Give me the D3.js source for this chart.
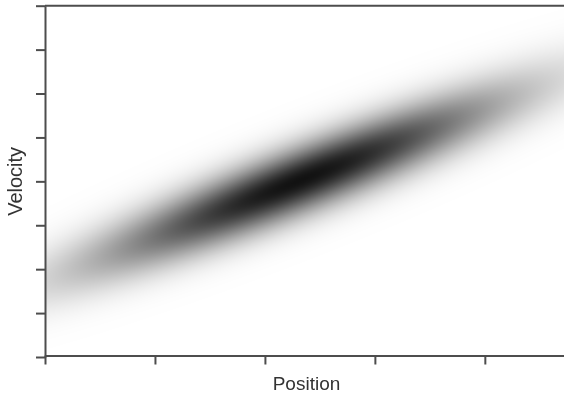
<!DOCTYPE html>
<html>
<head>
<meta charset="utf-8">
<script src="https://cdn.jsdelivr.net/npm/d3@7"></script>
<style>
  html, body { margin: 0; padding: 0; background: #fff; }
  #wrap { position: relative; width: 564px; height: 398px; }
  canvas, svg { position: absolute; left: 0; top: 0; }
</style>
</head>
<body>
<div id="wrap"></div>
<script>
// Joint density of position and velocity (bivariate normal)
const variables = ["Position", "Velocity"];
const means = [2.32, 4.02];
const stdDevs = [1.27, 1.34];
const correlation = [0.916];

// Axis ticks (labels are left blank)
const xTicks = [0, 1, 2, 3, 4];
const yTicks = [0, 1, 2, 3, 4, 5, 6, 7, 8];
const xDomain = [0, 4.72];
const yDomain = [0, 8];

const W = 564, H = 398;
const plotLeft = 45, plotRight = 564, plotTop = 5.7, plotBottom = 357;

const x = d3.scaleLinear().domain(xDomain).range([plotLeft, plotRight]);
const y = d3.scaleLinear().domain(yDomain).range([plotBottom, plotTop]);

const wrap = d3.select("#wrap");

// density image
const canvas = wrap.append("canvas").attr("width", W).attr("height", H).node();
const ctx = canvas.getContext("2d");
const img = ctx.createImageData(W, H);
const [mx, my] = means, [sx, sy] = stdDevs, rho = correlation[0];
const k = 1 / (2 * (1 - rho * rho));
const shade = d3.scaleLinear().domain([0, 1]).range([255, 18]);
for (let py = 0; py < H; py++) {
  for (let px = 0; px < W; px++) {
    const i = (py * W + px) * 4;
    let g = 255;
    if (px >= plotLeft && py >= plotTop && py <= plotBottom) {
      const zx = (x.invert(px + 0.5) - mx) / sx;
      const zy = (y.invert(py + 0.5) - my) / sy;
      const d = Math.exp(-k * (zx * zx - 2 * rho * zx * zy + zy * zy));
      g = shade(d);
    }
    img.data[i] = img.data[i + 1] = img.data[i + 2] = g;
    img.data[i + 3] = 255;
  }
}
ctx.putImageData(img, 0, 0);

const svg = wrap.append("svg").attr("width", W).attr("height", H);
const axisColor = "#4d4d4d";

const xAxis = svg.append("g")
  .attr("transform", `translate(0,${plotBottom - 1.5})`)
  .call(d3.axisBottom(x).tickValues(xTicks).tickFormat("").tickSizeInner(9).tickSizeOuter(0));
const yAxis = svg.append("g")
  .attr("transform", `translate(${plotLeft},0)`)
  .call(d3.axisLeft(y).tickValues(yTicks).tickFormat("").tickSizeInner(9).tickSizeOuter(0));
[xAxis, yAxis].forEach(g => {
  g.selectAll("path.domain").attr("stroke", axisColor).attr("stroke-width", 2);
  g.selectAll(".tick line").attr("stroke", axisColor).attr("stroke-width", 2);
});

// top frame line
svg.append("line")
  .attr("x1", plotLeft).attr("x2", plotRight)
  .attr("y1", y(yDomain[1])).attr("y2", y(yDomain[1]))
  .attr("stroke", axisColor).attr("stroke-width", 2);

svg.append("text")
  .attr("x", (plotLeft + plotRight) / 2 + 2).attr("y", 390)
  .attr("text-anchor", "middle")
  .attr("font-family", "Liberation Sans, Arial, sans-serif")
  .attr("font-size", 19).attr("fill", "#333")
  .text(variables[0]);

svg.append("text")
  .attr("transform", `translate(22,${(plotTop + plotBottom) / 2}) rotate(-90)`)
  .attr("text-anchor", "middle")
  .attr("font-family", "Liberation Sans, Arial, sans-serif")
  .attr("font-size", 20).attr("fill", "#333")
  .text(variables[1]);
</script>
</body>
</html>
